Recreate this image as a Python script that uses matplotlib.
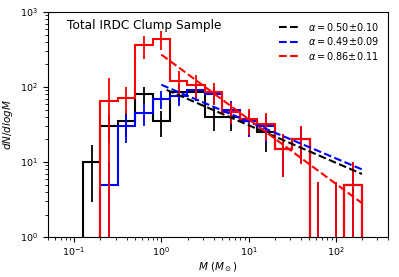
import numpy as np
import matplotlib
matplotlib.use('Agg')  # sin pantalla
import matplotlib.pyplot as plt

# Bordes de los bins en log10(M / Msun)
log_edges = [-0.9, -0.7, -0.5, -0.3, -0.1, 0.1, 0.3, 0.5, 0.7, 0.9,
             1.1, 1.3, 1.5, 1.7, 1.9, 2.1, 2.3]

# dN/dlogM por bin
black_vals = [10, 30, 35, 80, 35, 85, 85, 40, 40, 35, 25, 15, 20, 0, 0, 5]
black_errs = [7.1, 12.2, 13.2, 20, 13.2, 20.6, 20.6, 14.1, 14.1, 13.2, 11.2, 8.7, 10.5, 5.5, 5.5, 5]

blue_vals = [0, 5, 30, 45, 70, 75, 90, 80, 50, 35, 30, 15, 20, 0, 0, 5]
blue_errs = [0, 5, 12.2, 15, 18.7, 19.4, 21.2, 20, 15.8, 13.2, 12.2, 8.7, 10.5, 5.5, 5.5, 5]

red_vals = [0, 66, 72, 360, 430, 121, 107, 85, 47, 37, 32, 15, 20, 0, 0, 5]
red_errs = [0, 65, 28, 125, 120, 42, 37, 27, 15, 14, 13, 8.7, 10.5, 5.5, 5.5, 5]

# Ajustes de ley de potencia dN/dlogM = A * M^-alpha
fit_alpha = [0.50, 0.49, 0.86]
fit_alpha_err = [0.10, 0.09, 0.11]
fit_norm = [98, 107, 270]
fit_mmin = [1.15, 1.0, 1.0]
fit_mmax = 200

colors = ['black', 'blue', 'red']

edges = 10 ** np.array(log_edges)
centers = 10 ** ((np.array(log_edges[:-1]) + np.array(log_edges[1:])) / 2)

fig = plt.figure(figsize=(3.99, 2.77), dpi=100)
ax = fig.add_axes([0.120, 0.144, 0.853, 0.813])
ax.set_xscale('log')
ax.set_yscale('log')

for vals, errs, c in [(black_vals, black_errs, 'black'),
                      (blue_vals, blue_errs, 'blue'),
                      (red_vals, red_errs, 'red')]:
    vals = np.array(vals, dtype=float)
    errs = np.array(errs, dtype=float)
    ax.stairs(vals, edges, baseline=0, color=c, lw=1.5)
    m = errs > 0
    ax.errorbar(centers[m], vals[m], yerr=errs[m], fmt='none',
                ecolor=c, elinewidth=1.3, capsize=0)

for a, ae, A, mlo, c in zip(fit_alpha, fit_alpha_err, fit_norm, fit_mmin, colors):
    mm = np.logspace(np.log10(mlo), np.log10(fit_mmax), 50)
    ax.plot(mm, A * mm ** (-a), '--', color=c, lw=1.5,
            label=r'$\alpha=$%.2f$\pm$%.2f' % (a, ae))

ax.set_xlim(0.05, 400)
ax.set_ylim(1, 1000)
ax.tick_params(labelsize=6.8)
ax.tick_params(axis='x', which='major', pad=2.5)
ax.set_xlabel(r'$M$ ($M_\odot$)', fontsize=7.5, labelpad=1.5)
ax.set_ylabel(r'$dN/dlogM$', fontsize=7.5)
ax.text(0.055, 0.94, 'Total IRDC Clump Sample', transform=ax.transAxes,
        ha='left', va='center', fontsize=8.7)
ax.legend(loc='upper right', frameon=False, fontsize=7, handlelength=2.2,
          labelspacing=0.25)

fig.savefig('out.png', dpi=100)
